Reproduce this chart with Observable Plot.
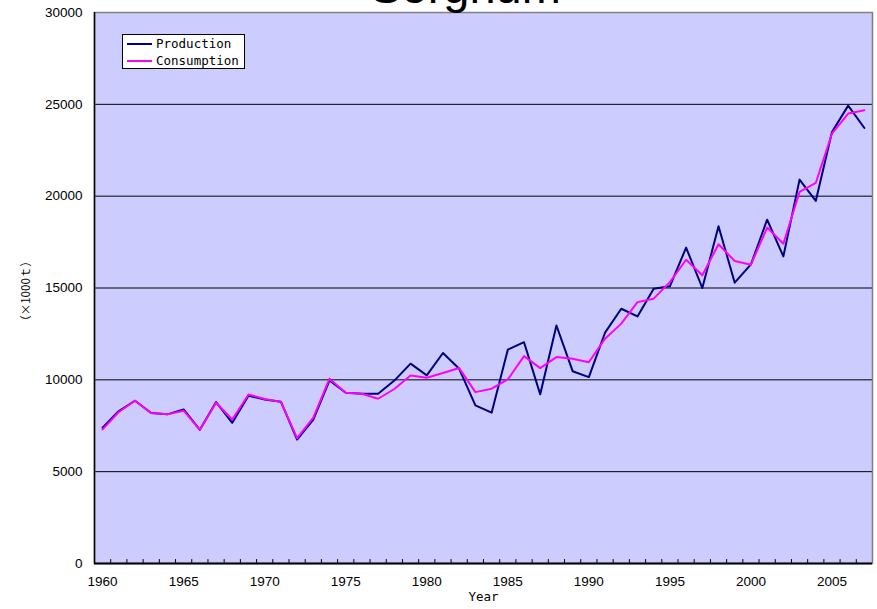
<!DOCTYPE html>
<html>
<head>
<meta charset="utf-8">
<script src="https://cdn.jsdelivr.net/npm/d3@7"></script>
<script src="https://cdn.jsdelivr.net/npm/@observablehq/plot@0.6"></script>
<style>
  html, body { margin: 0; padding: 0; background: white; }
  #wrap { position: relative; width: 877px; height: 609px; overflow: hidden; }
  #legend { position: absolute; left: 122px; top: 34px; width: 121px; height: 33px;
    border: 1px solid black; background: white; font-family: "DejaVu Sans Mono", monospace; font-size: 12.5px; }
  .row { position: absolute; left: 0; height: 16px; line-height: 16px; white-space: nowrap; }
  .sw { position: absolute; left: 4px; top: 7px; width: 25px; height: 0; border-top: 2px solid; }
  .lb { position: absolute; left: 33px; top: 0; }
</style>
</head>
<body>
<div id="wrap"></div>
<script>
const title = "Sorghum";
const xTitle = "Year";
const yTitle = "（×1000ｔ）";
const seriesNames = ["Production", "Consumption"];
const seriesColors = ["#000080", "#ff00ff"];
const years = d3.range(1960, 2008);
const production = [7390, 8300, 8860, 8190, 8120, 8390, 7280, 8790, 7660, 9130,
  8930, 8810, 6750, 7830, 9970, 9300, 9240, 9240, 9960, 10880,
  10240, 11460, 10600, 8610, 8210, 11640, 12050, 9210, 12960, 10470,
  10150, 12570, 13870, 13450, 14960, 15090, 17200, 15000, 18360, 15290,
  16290, 18720, 16720, 20900, 19740, 23490, 24930, 23710];
const consumption = [7300, 8250, 8860, 8190, 8120, 8320, 7280, 8750, 7840, 9200,
  8960, 8800, 6830, 7940, 10060, 9300, 9240, 8970, 9500, 10240,
  10110, 10370, 10640, 9330, 9520, 10020, 11290, 10640, 11240, 11150,
  10960, 12240, 13060, 14230, 14420, 15320, 16540, 15690, 17380, 16470,
  16270, 18290, 17410, 20230, 20720, 23410, 24500, 24680];
const xLabelYears = [1960, 1965, 1970, 1975, 1980, 1985, 1990, 1995, 2000, 2005];
const yTicks = [0, 5000, 10000, 15000, 20000, 25000, 30000];
const gridValues = [5000, 10000, 15000, 20000, 25000];

const xDomain = [years[0] - 0.5, years[years.length - 1] + 0.5];
const yDomain = [0, 30000];
const boundaries = years.slice(1).map(y => y - 0.5);

const prodData = years.map((y, i) => ({year: y, value: production[i]}));
const consData = years.map((y, i) => ({year: y, value: consumption[i]}));

const tickShape = { draw(context, l) { context.moveTo(0, 0); context.lineTo(0, -l); } };

const chart = Plot.plot({
  width: 877,
  height: 609,
  marginLeft: 94,
  marginRight: 5,
  marginTop: 12,
  marginBottom: 46,
  style: { fontFamily: "'Liberation Sans', Arial, sans-serif", fontSize: "13.5px", background: "white", overflow: "visible" },
  x: { domain: xDomain, label: null },
  y: { domain: yDomain, label: null },
  marks: [
    Plot.frame({ fill: "#ccccff" }),
    Plot.ruleY(gridValues, { stroke: "black", strokeWidth: 1 }),
    Plot.vector(boundaries, { x: d => d, y: yDomain[0], length: 4, anchor: "start", shape: tickShape, stroke: "black", strokeWidth: 1 }),
    Plot.line(prodData, { x: "year", y: "value", stroke: seriesColors[0], strokeWidth: 2 }),
    Plot.line(consData, { x: "year", y: "value", stroke: seriesColors[1], strokeWidth: 2 }),
    Plot.frame({ stroke: "#808080", strokeWidth: 1.5 }),
    Plot.ruleX([xDomain[0]], { stroke: "black", strokeWidth: 1.5 }),
    Plot.ruleY([yDomain[0]], { stroke: "black", strokeWidth: 2 }),
    Plot.axisX(xLabelYears, { tickSize: 0, tickPadding: 13, tickFormat: d => String(d), label: null }),
    Plot.axisY(yTicks, { tickSize: 0, tickPadding: 12, tickFormat: d => String(d), label: null }),
    Plot.text([xTitle], { frameAnchor: "bottom", dy: 37, fontSize: 12.5, fontFamily: "'DejaVu Sans Mono', monospace" }),
    Plot.text([yTitle], { frameAnchor: "left", dx: -68, dy: 3, rotate: -90, textAnchor: "middle", fontSize: 11.5, fontFamily: "'Noto Sans CJK JP', sans-serif" }),
    Plot.text([title], { frameAnchor: "top", dx: -18, dy: -10, lineAnchor: "bottom", fontSize: 47, fontFamily: "'Liberation Sans', Arial, sans-serif" })
  ]
});

const wrap = document.getElementById("wrap");
wrap.appendChild(chart);

const legend = document.createElement("div");
legend.id = "legend";
seriesNames.forEach((name, i) => {
  const row = document.createElement("div");
  row.className = "row";
  row.style.top = (i === 0 ? 1 : 18) + "px";
  row.innerHTML = `<span class="sw" style="border-top-color:${seriesColors[i]}"></span><span class="lb">${name}</span>`;
  legend.appendChild(row);
});
wrap.appendChild(legend);
</script>
</body>
</html>
